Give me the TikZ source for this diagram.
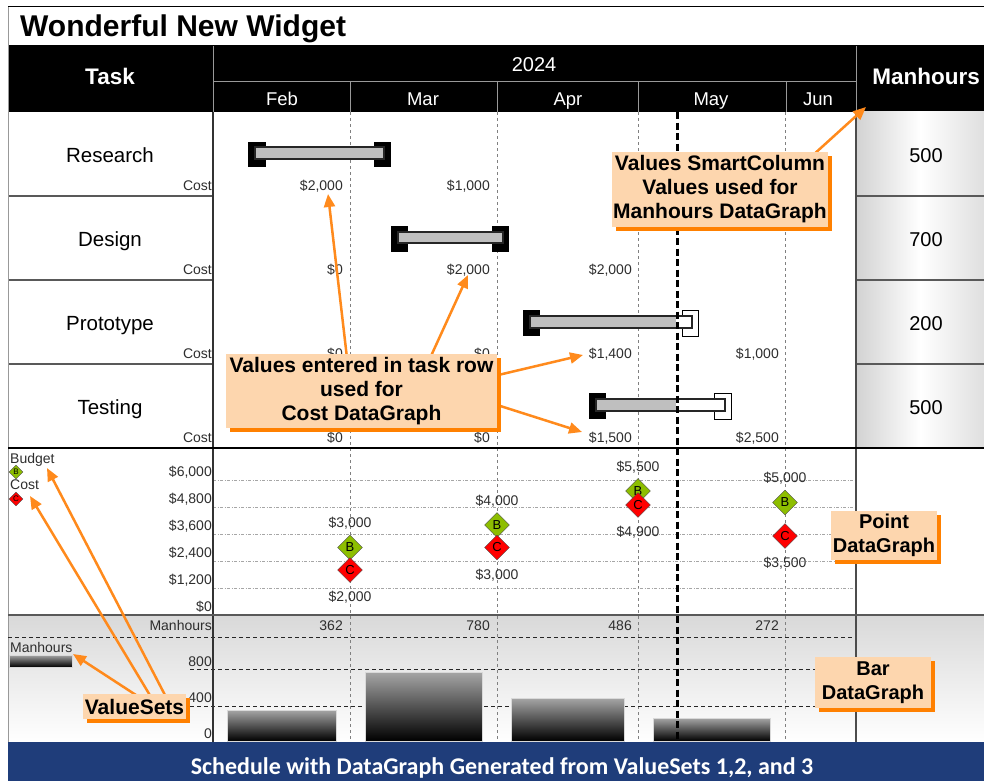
\documentclass[tikz,border=0pt]{standalone}
\usepackage{fontspec}
\setmainfont{Liberation Sans}
\newfontfamily\bannerfont{Carlito}
\usetikzlibrary{arrows.meta,shapes.geometric,shadows}
\definecolor{peach}{HTML}{FDD6AE}
\definecolor{shadoworange}{HTML}{FF8000}
\definecolor{arroworange}{HTML}{FF8A1C}
\definecolor{budgetgreen}{HTML}{8DBE00}
\definecolor{costred}{HTML}{FF0000}
\definecolor{bannerblue}{HTML}{1F3D7A}
\definecolor{cellgray}{HTML}{D2D2D2}
\definecolor{labelgray}{HTML}{2E2E2E}
\definecolor{bargray}{HTML}{BFBFBF}
\newcommand{\myfs}[1]{\fontsize{#1}{#1}\selectfont}
\begin{document}
\begin{tikzpicture}[x=1pt,y=-1pt,
  lbl/.style={inner sep=0pt, font=\myfs{14}, text=labelgray},
  hdrtxt/.style={inner sep=0pt, text=white},
  tasktxt/.style={inner sep=0pt, font=\myfs{20.5}, anchor=base},
  mhval/.style={inner sep=0pt, font=\myfs{20}, anchor=base},
  callout/.style={fill=peach, inner sep=0pt, align=center,
     font=\fontsize{21}{24}\selectfont\bfseries,
     drop shadow={shadow xshift=4pt, shadow yshift=-4pt, fill=shadoworange, opacity=1}},
  smallcallout/.style={callout, font=\fontsize{20}{23.5}\selectfont\bfseries},
  callarrow/.style={draw=arroworange, line width=2.5pt, -{Triangle[length=13pt,width=11pt]}},
  bdiam/.style={diamond, draw=black!70, fill=budgetgreen, minimum size=25pt, inner sep=0pt, font=\myfs{13}},
  cdiam/.style={bdiam, fill=costred},
  legbdiam/.style={bdiam, minimum size=14pt, font=\myfs{8}},
  legcdiam/.style={cdiam, minimum size=14pt, font=\myfs{8}},
  vgrid/.style={draw=black!50, line width=0.7pt, dash pattern=on 3pt off 3pt},
  hgrid/.style={draw=black!35, line width=0.7pt, dash pattern=on 3pt off 1.5pt on 1pt off 1.5pt},
  bardash/.style={draw=black!85, line width=1pt, dash pattern=on 4pt off 3pt},
  nowline/.style={draw=black, line width=3pt, dash pattern=on 7pt off 3.5pt},
  capblack/.style={fill=black},
  capwhite/.style={fill=white, draw=black, line width=1pt},
  barout/.style={draw=black!85, line width=1.2pt},
  mhbar/.style={top color=black!35, bottom color=black, draw=black!15, line width=0.6pt},
  sepline/.style={draw=black!65, line width=1.5pt},
  hdrline/.style={draw=black!40, line width=0.8pt},
]
\useasboundingbox (0,0) rectangle (984,781);
\fill[white] (0,0) rectangle (984,781);

% ---------- title ----------
\draw[black, line width=1pt] (8,7) -- (984,7);
\node[anchor=base west, inner sep=0pt, font=\myfs{30}\bfseries] (title) at (20,37) {Wonderful New Widget};

% ---------- header ----------
\fill[black] (8,45.5) rectangle (984,112.5);
\draw[hdrline] (213,46) -- (213,112);
\draw[hdrline] (213,81) -- (856,81);
\foreach \x in {350,497,638,786} \draw[hdrline] (\x,81) -- (\x,112);
\draw[hdrline] (856,46) -- (856,112);
\node[hdrtxt, font=\myfs{22.5}\bfseries, anchor=base] (hTask) at (110,85) {Task};
\node[hdrtxt, font=\myfs{20}, anchor=base] (hYear) at (534,72) {2024};
\node[hdrtxt, font=\myfs{18.5}, anchor=base] (mFeb) at (282,106) {Feb};
\node[hdrtxt, font=\myfs{18.5}, anchor=base] (mMar) at (423,106) {Mar};
\node[hdrtxt, font=\myfs{18.5}, anchor=base] (mApr) at (568,106) {Apr};
\node[hdrtxt, font=\myfs{18.5}, anchor=base] (mMay) at (711,106) {May};
\node[hdrtxt, font=\myfs{18.5}, anchor=base] (mJun) at (818,106) {Jun};
\node[hdrtxt, font=\myfs{22.5}\bfseries, anchor=base] (hMan) at (926,85) {Manhours};

% ---------- manhours column cells ----------
\foreach \t in {112,196,280,364}
  \shade[left color=cellgray, right color=cellgray!70, middle color=white] (856,\t) rectangle (984,\t+84);

% ---------- bar graph background ----------
\shade[top color=black!15, bottom color=white] (8,615) rectangle (984,742);

% ---------- row separators and frame ----------
\foreach \t in {196,280,364} {
  \draw[sepline] (8,\t) -- (213,\t);
  \draw[sepline] (856,\t) -- (984,\t);
}
\draw[black!40, line width=0.8pt] (8,7) -- (8,742);

% ---------- grids ----------
\foreach \x in {350,497,638,785} \draw[vgrid] (\x,112) -- (\x,742);
\foreach \y in {480,507,534,561,588} \draw[hgrid] (213,\y) -- (856,\y);
\draw[bardash] (8,637) -- (856,637);
\draw[bardash] (190,669) -- (856,669);
\draw[bardash] (190,706) -- (856,706);

\draw[black!80, line width=1.2pt] (213,112) -- (213,742);
\draw[black!70, line width=1.2pt] (856,112) -- (856,742);
\draw[black, line width=1.5pt] (8,448) -- (984,448);
\draw[black!65, line width=2pt] (8,615) -- (984,615);

% ---------- task names ----------
\node[tasktxt] (tResearch) at (110,162) {Research};
\node[tasktxt] (tDesign) at (110,246) {Design};
\node[tasktxt] (tPrototype) at (110,330) {Prototype};
\node[tasktxt] (tTesting) at (110,414) {Testing};

% ---------- manhours values ----------
\node[mhval] (mh1) at (926,162) {500};
\node[mhval] (mh2) at (926,246) {700};
\node[mhval] (mh3) at (926,330) {200};
\node[mhval] (mh4) at (926,414) {500};

% ---------- cost labels ----------
\node[lbl, anchor=base east] (cR) at (212,190.5) {Cost};
\node[lbl, anchor=base east] (r1) at (343,190.5) {\$2,000};
\node[lbl, anchor=base east] (r2) at (490,190.5) {\$1,000};

\node[lbl, anchor=base east] (cD) at (212,274.5) {Cost};
\node[lbl, anchor=base east] (d1) at (343,274.5) {\$0};
\node[lbl, anchor=base east] (d2) at (490,274.5) {\$2,000};
\node[lbl, anchor=base east] (d3) at (632,274.5) {\$2,000};

\node[lbl, anchor=base east] (cP) at (212,358.5) {Cost};
\node[lbl, anchor=base east] (p1) at (343,358.5) {\$0};
\node[lbl, anchor=base east] (p2) at (490,358.5) {\$0};
\node[lbl, anchor=base east] (p3) at (632,358.5) {\$1,400};
\node[lbl, anchor=base east] (p4) at (779,358.5) {\$1,000};

\node[lbl, anchor=base east] (cT) at (212,442.5) {Cost};
\node[lbl, anchor=base east] (q1) at (343,442.5) {\$0};
\node[lbl, anchor=base east] (q2) at (490,442.5) {\$0};
\node[lbl, anchor=base east] (q3) at (632,442.5) {\$1,500};
\node[lbl, anchor=base east] (q4) at (779,442.5) {\$2,500};

% ---------- gantt bars ----------
% Research
\fill[capblack] (248,142) rectangle (266,167);
\fill[capblack] (374,142) rectangle (391,167);
\filldraw[fill=bargray, barout] (255,147) rectangle (384,159);
% Design
\fill[capblack] (391,226) rectangle (408,252);
\fill[capblack] (492,226) rectangle (509,252);
\filldraw[fill=bargray, barout] (398,232) rectangle (503,243);
% Prototype
\fill[capblack] (523,310) rectangle (540,336);
\filldraw[capwhite] (682,310) rectangle (698,336);
\fill[bargray] (530,316) rectangle (676,328);
\fill[white] (676,316) rectangle (692,328);
\draw[barout] (530,316) rectangle (692,328);
% Testing
\fill[capblack] (589,393) rectangle (606,419);
\filldraw[capwhite] (714,393) rectangle (731,419);
\fill[bargray] (596,399) rectangle (676,411);
\fill[white] (676,399) rectangle (725,411);
\draw[barout] (596,399) rectangle (725,411);

% ---------- point datagraph ----------
\node[lbl, anchor=base west] (legBudget) at (10,463) {Budget};
\node[legbdiam] (legB) at (16,472) {B};
\node[lbl, anchor=base west] (legCost) at (10,489) {Cost};
\node[legcdiam] (legC) at (16,499) {C};

\node[lbl, anchor=base east] (y6) at (212,476.7) {\$6,000};
\node[lbl, anchor=base east] (y5) at (212,503.7) {\$4,800};
\node[lbl, anchor=base east] (y4) at (212,530.7) {\$3,600};
\node[lbl, anchor=base east] (y3) at (212,557.7) {\$2,400};
\node[lbl, anchor=base east] (y2) at (212,584.7) {\$1,200};
\node[lbl, anchor=base east] (y1) at (212,611.7) {\$0};

\node[bdiam] (bFeb) at (350,547.5) {B};
\node[cdiam] (cFeb) at (350,570) {C};
\node[bdiam] (bMar) at (497,525) {B};
\node[cdiam] (cMar) at (497,547.5) {C};
\node[bdiam] (bApr) at (638,491) {B};
\node[cdiam] (cApr) at (638,505) {C};
\node[bdiam] (bMay) at (785,502.5) {B};
\node[cdiam] (cMay) at (785,536) {C};

\node[lbl, anchor=base] (vbFeb) at (350,527.5) {\$3,000};
\node[lbl, anchor=base] (vcFeb) at (350,601.5) {\$2,000};
\node[lbl, anchor=base] (vbMar) at (497,505) {\$4,000};
\node[lbl, anchor=base] (vcMar) at (497,579) {\$3,000};
\node[lbl, anchor=base] (vbApr) at (638,471) {\$5,500};
\node[lbl, anchor=base] (vcApr) at (638,536.5) {\$4,900};
\node[lbl, anchor=base] (vbMay) at (785,482.5) {\$5,000};
\node[lbl, anchor=base] (vcMay) at (785,567.5) {\$3,500};

% ---------- bar datagraph ----------
\node[lbl, anchor=base east] (mhRow) at (212,630) {Manhours};
\node[lbl, anchor=base east] (mhFeb) at (343,630) {362};
\node[lbl, anchor=base east] (mhMar) at (490,630) {780};
\node[lbl, anchor=base east] (mhApr) at (632,630) {486};
\node[lbl, anchor=base east] (mhMay) at (779,630) {272};
\node[lbl, anchor=base east] (ax800) at (212,666) {800};
\node[lbl, anchor=base east] (ax400) at (212,702) {400};
\node[lbl, anchor=base east] (ax0) at (212,738) {0};
\node[lbl, anchor=base west] (legMan) at (10,652) {Manhours};
\shade[mhbar] (9,655) rectangle (72,667);

\shade[mhbar] (227,710) rectangle (336,741);
\shade[mhbar] (365,672) rectangle (482,741);
\shade[mhbar] (511,698) rectangle (624,741);
\shade[mhbar] (653,718) rectangle (770,741);

% ---------- status date line ----------
\draw[nowline] (677,112) -- (677,742);

% ---------- arrows ----------
\coordinate (a1s) at (812,156); \coordinate (a1e) at (866,107);
\coordinate (a2s) at (347,358); \coordinate (a2e) at (328,194);
\coordinate (a3s) at (431,356); \coordinate (a3e) at (468,275);
\coordinate (a4s) at (494,376); \coordinate (a4e) at (583,355);
\coordinate (a5s) at (494,404); \coordinate (a5e) at (582,432);
\coordinate (a6s) at (139,697); \coordinate (a6e) at (73,654);
\coordinate (a7s) at (151,697); \coordinate (a7e) at (30,496);
\coordinate (a8s) at (166,697); \coordinate (a8e) at (47,468);
\draw[callarrow] (a1s) -- (a1e);
\draw[callarrow] (a2s) -- (a2e);
\draw[callarrow] (a3s) -- (a3e);
\draw[callarrow] (a4s) -- (a4e);
\draw[callarrow] (a5s) -- (a5e);
\draw[callarrow] (a6s) -- (a6e);
\draw[callarrow] (a7s) -- (a7e);
\draw[callarrow] (a8s) -- (a8e);

% ---------- callouts ----------
\node[callout, minimum width=216pt, minimum height=75pt] (cbSmart) at (720,189.5) {Values SmartColumn\\Values used for\\Manhours DataGraph};
\node[callout, minimum width=271pt, minimum height=74pt] (cbCost) at (361.5,391) {Values entered in task row\\used for\\Cost DataGraph};
\node[smallcallout, minimum width=106pt, minimum height=49pt] (cbPoint) at (884,535.5) {Point\\DataGraph};
\node[smallcallout, minimum width=116pt, minimum height=51pt] (cbBar) at (873,682.5) {Bar\\DataGraph};
\node[callout, minimum width=103pt, minimum height=25pt] (cbVS) at (134.5,706.5) {ValueSets};

% ---------- banner ----------
\fill[bannerblue] (8,742) rectangle (984,781);
\node[inner sep=0pt, text=white, font=\bannerfont\myfs{24}\bfseries, anchor=base] (banner) at (502,774) {Schedule with DataGraph Generated from ValueSets 1,2, and 3};
\end{tikzpicture}
\end{document}
